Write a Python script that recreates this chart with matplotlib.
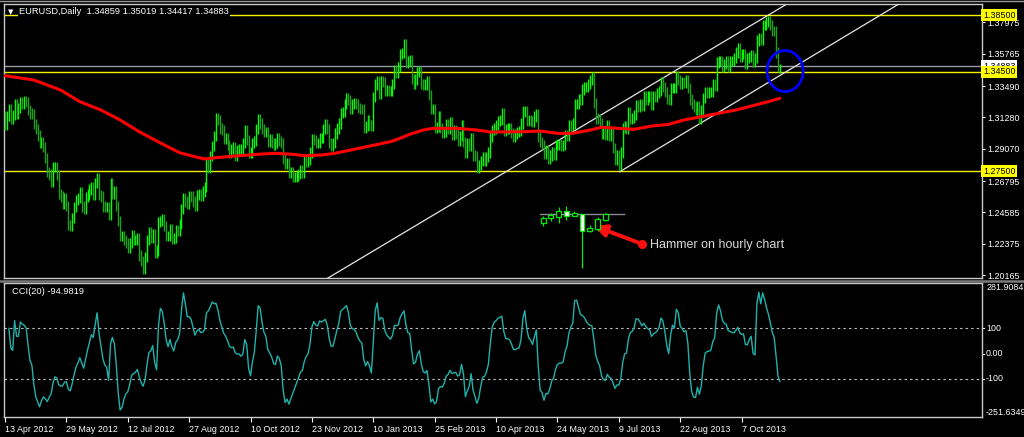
import numpy as np
import pandas as pd
import matplotlib
matplotlib.use('Agg')
import matplotlib.pyplot as plt
from matplotlib.patches import Ellipse, Rectangle
from matplotlib.lines import Line2D
import matplotlib.transforms as mtrans

plt.rcParams['font.family'] = ['Liberation Sans', 'DejaVu Sans']

# ---------------- data ----------------
symbol = 'EURUSD,Daily'
last_ohlc = [1.34859, 1.35019, 1.34417, 1.34883]
first_open = 1.3135
closes = [
    1.3075,
    1.3140, 1.3185, 1.3115, 1.3145, 1.3220,
    1.3155, 1.3195, 1.3235, 1.3225, 1.3240,
    1.3235, 1.3180, 1.3155, 1.3150, 1.3080,
    1.3045, 1.3000, 1.2945, 1.2955, 1.2920,
    1.2840, 1.2745, 1.2725, 1.2675, 1.2780,
    1.2780, 1.2720, 1.2590, 1.2570, 1.2515,
    1.2560, 1.2505, 1.2370, 1.2360, 1.2420,
    1.2495, 1.2545, 1.2560, 1.2600, 1.2500,
    1.2485, 1.2565, 1.2585, 1.2620, 1.2640,
    1.2585, 1.2665, 1.2700, 1.2580, 1.2570,
    1.2500, 1.2495, 1.2495, 1.2440, 1.2665,
    1.2590, 1.2605, 1.2505, 1.2395, 1.2290,
    1.2290, 1.2265, 1.2245, 1.2205, 1.2245,
    1.2295, 1.2265, 1.2265, 1.2280, 1.2155,
    1.2115, 1.2060, 1.2145, 1.2265, 1.2320,
    1.2280, 1.2305, 1.2175, 1.2190, 1.2390,
    1.2400, 1.2410, 1.2365, 1.2290, 1.2290,
    1.2340, 1.2270, 1.2280, 1.2335, 1.2330,
    1.2375, 1.2485, 1.2560, 1.2535, 1.2515,
    1.2575, 1.2570, 1.2535, 1.2505, 1.2580,
    1.2585, 1.2575, 1.2605, 1.2635, 1.2815,
    1.2770, 1.2855, 1.2925, 1.2995, 1.3125,
    1.3110, 1.3050, 1.3040, 1.2975, 1.2985,
    1.2935, 1.2880, 1.2905, 1.2920, 1.2860,
    1.2895, 1.2905, 1.2905, 1.2945, 1.3035,
    1.2970, 1.2875, 1.2880, 1.2950, 1.2960,
    1.3045, 1.3115, 1.3085, 1.3045, 1.3025,
    1.3025, 1.2955, 1.2975, 1.2950, 1.2935,
    1.2945, 1.2985, 1.2960, 1.2945, 1.2835,
    1.2800, 1.2805, 1.2740, 1.2745, 1.2710,
    1.2710, 1.2715, 1.2730, 1.2760, 1.2740,
    1.2820, 1.2815, 1.2830, 1.2880, 1.2975,
    1.2970, 1.2945, 1.2945, 1.2985, 1.2985,
    1.3045, 1.3080, 1.3045, 1.2945, 1.2930,
    1.2950, 1.3015, 1.3050, 1.3085, 1.3160,
    1.3165, 1.3225, 1.3265, 1.3250, 1.3190,
    1.3220, 1.3230, 1.3225, 1.3195,
    1.3190, 1.3185, 1.3055, 1.3065,
    1.3110, 1.3075, 1.3065, 1.3270, 1.3360,
    1.3385, 1.3295, 1.3385, 1.3375, 1.3315,
    1.3320, 1.3315, 1.3315, 1.3365, 1.3460,
    1.3445, 1.3485, 1.3575, 1.3580, 1.3645,
    1.3510, 1.3525, 1.3535, 1.3400, 1.3365,
    1.3395, 1.3450, 1.3455, 1.3365, 1.3360,
    1.3360, 1.3385, 1.3285, 1.3190, 1.3190,
    1.3055, 1.3060, 1.3135, 1.3055, 1.3020,
    1.3025, 1.3080, 1.3045, 1.3095, 1.3005,
    1.3035, 1.3010, 1.2965, 1.2995, 1.3075,
    1.2955, 1.2875, 1.2950, 1.2925, 1.2985,
    1.2860, 1.2855, 1.2775, 1.2790, 1.2820,
    1.2845, 1.2820, 1.2850, 1.2880, 1.2990,
    1.3040, 1.3050, 1.3075, 1.3105, 1.3110,
    1.3155, 1.3035, 1.3045, 1.3050, 1.3050,
    1.3020, 1.2990, 1.3010, 1.3025, 1.3030,
    1.3085, 1.3170, 1.3170, 1.3105, 1.3110,
    1.3105, 1.3095, 1.3135, 1.3150, 1.2990,
    1.2955, 1.2935, 1.2870, 1.2900, 1.2835,
    1.2860, 1.2880, 1.2865, 1.2935, 1.2935,
    1.2940, 1.2925, 1.2935, 1.3000, 1.2995,
    1.3075, 1.3065, 1.3085, 1.3220, 1.3220,
    1.3260, 1.3255, 1.3325, 1.3340, 1.3345,
    1.3365, 1.3390, 1.3415, 1.3230, 1.3120,
    1.3115, 1.3090, 1.3010, 1.3015, 1.3005,
    1.3075, 1.3000, 1.3015, 1.2910, 1.2830,
    1.2860, 1.2795, 1.2880, 1.3055, 1.3065,
    1.3050, 1.3165, 1.3120, 1.3125, 1.3145,
    1.3215, 1.3200, 1.3225, 1.3210, 1.3280,
    1.3255, 1.3275, 1.3280, 1.3215, 1.3280,
    1.3275, 1.3300, 1.3315, 1.3375, 1.3340,
    1.3305, 1.3260, 1.3250, 1.3335, 1.3335,
    1.3335, 1.3420, 1.3390, 1.3365, 1.3380,
    1.3370, 1.3390, 1.3335, 1.3255, 1.3225,
    1.3200, 1.3180, 1.3210, 1.3115, 1.3180,
    1.3265, 1.3305, 1.3300, 1.3305, 1.3305,
    1.3360, 1.3350, 1.3515, 1.3525, 1.3525,
    1.3485, 1.3505, 1.3525, 1.3485, 1.3525,
    1.3525, 1.3545, 1.3585, 1.3615, 1.3555,
    1.3575, 1.3575, 1.3505, 1.3545, 1.3555,
    1.3565, 1.3520, 1.3545, 1.3670, 1.3685,
    1.3675, 1.3780, 1.3780, 1.3800, 1.3805,
    1.3780, 1.3740, 1.3735, 1.3585, 1.3486,
]
bar_wick = 0.0036

date_ticks = [0, 32, 64, 96, 128, 160, 192, 224, 256, 288, 320, 352, 384]
date_labels = ['13 Apr 2012', '29 May 2012', '12 Jul 2012', '27 Aug 2012',
               '10 Oct 2012', '23 Nov 2012', '10 Jan 2013', '25 Feb 2013',
               '10 Apr 2013', '24 May 2013', '9 Jul 2013', '22 Aug 2013',
               '7 Oct 2013']
price_ticks = [1.37975, 1.35765, 1.33490, 1.31280, 1.29070, 1.26795,
               1.24585, 1.22375, 1.20165]
hlines_yellow = [1.38500, 1.34500, 1.27500]
price_range = [1.19958, 1.39276]

ma_bars = [0, 15, 29, 39, 50, 60, 70, 81, 91, 99, 104, 110, 120, 134, 141,
           150, 156, 165, 172, 182, 193, 201, 206, 211, 218, 223, 236, 246,
           253, 270, 279, 288, 296, 305, 311, 320, 328, 337, 346, 354, 363,
           372, 381, 389, 398, 404]
ma_vals = [1.3422, 1.3392, 1.3321, 1.3239, 1.3180, 1.3110, 1.3027, 1.2948,
           1.2879, 1.2851, 1.2835, 1.2844, 1.2856, 1.2870, 1.2875, 1.2868,
           1.2858, 1.2863, 1.2875, 1.2903, 1.2934, 1.2957, 1.2981, 1.3009,
           1.3039, 1.3051, 1.3051, 1.3039, 1.3025, 1.3027, 1.3032, 1.3016,
           1.3016, 1.3039, 1.3058, 1.3051, 1.3044, 1.3067, 1.3079, 1.3110,
           1.3133, 1.3157, 1.3180, 1.3208, 1.3239, 1.3263]

chan_lower_x = [320.5, 470.0]
chan_lower_y = [1.2745, 1.3960]
chan_upper_x = [168.4, 406.7]
chan_upper_y = [1.1996, 1.3920]
circle_center = (406.7, 1.3455)
circle_size = (18.8, 0.0289)

cci_period = 20
cci_label_value = -94.9819
cci_levels = [100, -100]
cci_range = [-251.6349, 281.9084]

hourly_open = [1.3482, 1.3492, 1.3494, 1.3506, 1.3496, 1.3500, 1.3466, 1.3470, 1.3488]
hourly_high = [1.3496, 1.3502, 1.3514, 1.3516, 1.3506, 1.3500, 1.3478, 1.3494, 1.3502]
hourly_low = [1.3476, 1.3486, 1.3482, 1.3488, 1.3496, 1.3392, 1.3464, 1.3466, 1.3486]
hourly_close = [1.3492, 1.3498, 1.3506, 1.3496, 1.3502, 1.3466, 1.3472, 1.3490, 1.3500]
hourly_ref = 1.3500

arrow_tail = (332.1, 1.2236)
arrow_head = (307.1, 1.2363)
note_text = 'Hammer on hourly chart'

# ---------------- derived OHLC ----------------
c = np.array(closes + [last_ohlc[3]])
n = len(c)
x = np.arange(n)
o = np.r_[first_open, c[:-1]]
o[-1] = last_ohlc[0]
h = np.maximum(o, c) + bar_wick
l = np.minimum(o, c) - bar_wick
h[-1] = last_ohlc[1]
l[-1] = last_ohlc[2]

tp = pd.Series((h + l + c) / 3.0)
sma = tp.rolling(cci_period, min_periods=3).mean()
md = tp.rolling(cci_period, min_periods=3).apply(lambda v: np.mean(np.abs(v - v.mean())), raw=True)
cci = ((tp - sma) / (0.015 * md)).values

# ---------------- figure ----------------
W, H = 1024, 437
fig = plt.figure(figsize=(W / 100, H / 100), dpi=100, facecolor='black')
FS = 6.4
frame_col = '#c8c8c8'

ax = fig.add_axes([3.5 / W, 1 - 278 / H, 978.2 / W, 274 / H])
ax2 = fig.add_axes([3.5 / W, 1 - 416.7 / H, 978.2 / W, 134 / H])
for a in (ax, ax2):
    a.set_facecolor('black')
    for s in a.spines.values():
        s.set_color(frame_col)
        s.set_linewidth(1.0)
    a.set_xlim(-0.8, 509.2)

# separators / outer border
fig.add_artist(Line2D([0, 1], [1 - 280.8 / H] * 2, color='#7a7a7a', lw=1.8, transform=fig.transFigure))
fig.add_artist(Line2D([0, 1], [1 - 0.5 / H] * 2, color='#9a9a9a', lw=1.0, transform=fig.transFigure))

# main chart
ax.set_ylim(*price_range)
for lv in hlines_yellow:
    ax.axhline(lv, color='#f2f200', lw=1.0, zorder=2)
ax.axhline(last_ohlc[3], color='#9a9aa6', lw=1.0, zorder=2)

ax.plot(chan_upper_x, chan_upper_y, color='#e6e6e6', lw=0.9, zorder=3)
ax.plot(chan_lower_x, chan_lower_y, color='#e6e6e6', lw=0.9, zorder=3)

up = c >= o
ax.vlines(x[up], l[up], h[up], colors='#00ff00', lw=1.0, zorder=4)
ax.vlines(x[~up], l[~up], h[~up], colors='#1ea01e', lw=1.0, zorder=4)

ax.plot(ma_bars, ma_vals, color='#ff0000', lw=2.2, zorder=5, solid_capstyle='round')

ax.add_patch(Ellipse(circle_center, circle_size[0], circle_size[1], fill=False,
                     ec='#0000ff', lw=2.0, zorder=6))

ax.set_xticks([])
ax.yaxis.tick_right()
ax.set_yticks(price_ticks)
ax.set_yticklabels(['%.5f' % v for v in price_ticks])
ax.tick_params(axis='y', colors='white', labelsize=FS, length=2.5, width=0.8,
               pad=1.5, labelcolor='white')

btr = mtrans.blended_transform_factory(ax.transAxes, ax.transData)
ax.text(1.0012, last_ohlc[3], '%.5f' % last_ohlc[3], transform=btr, ha='left', va='center',
        fontsize=FS, color='black', zorder=10, clip_on=False,
        bbox=dict(boxstyle='square,pad=0.18', fc='white', ec='none'))
for lv in hlines_yellow:
    ax.text(1.0012, lv, '%.5f' % lv, transform=btr, ha='left', va='center',
            fontsize=FS, color='black', zorder=11, clip_on=False,
            bbox=dict(boxstyle='square,pad=0.18', fc='#ffff00', ec='none'))

# annotation arrow + text
ax.annotate('', xy=arrow_head, xytext=arrow_tail,
            arrowprops=dict(arrowstyle='-|>', color='#ff1010', lw=2.8, mutation_scale=18,
                            shrinkA=0, shrinkB=0), zorder=8)
ax.plot([arrow_tail[0]], [arrow_tail[1]], 'o', color='#ff1010', ms=5.5, zorder=8)
ax.text(arrow_tail[0] + 4.2, arrow_tail[1] - 0.0007, note_text, color='#d8d8d8',
        fontsize=9, ha='left', va='center', zorder=8)

# hourly inset
axi = fig.add_axes([536 / W, 1 - 272 / H, 92 / W, 72 / H])
axi.set_facecolor('none')
axi.axis('off')
axi.set_xlim(-0.9, 10.9)
axi.set_ylim(1.3384, 1.3528)
axi.plot([-0.38, 10.4], [hourly_ref, hourly_ref], color='#8a8a96', lw=1.0, zorder=1)
for i in range(len(hourly_open)):
    oo, hh, ll, cc = hourly_open[i], hourly_high[i], hourly_low[i], hourly_close[i]
    axi.vlines(i, ll, hh, colors='#00ee00', lw=0.9, zorder=2)
    fc = 'black' if cc >= oo else 'white'
    axi.add_patch(Rectangle((i - 0.32, min(oo, cc)), 0.64, abs(cc - oo), fc=fc,
                            ec='#00ee00', lw=0.9, zorder=3))

# header
fig.text(8 / W, 1 - 12 / H, '\u25bc', color='white', fontsize=5, ha='left', va='center',
         family=['DejaVu Sans'])
fig.text(19 / W, 1 - 12 / H, '%s  %.5f %.5f %.5f %.5f' % (symbol, *last_ohlc),
         color='white', fontsize=FS + 0.3, ha='left', va='center',
         bbox=dict(boxstyle='square,pad=0.1', fc='black', ec='none'), zorder=20)

# CCI panel
ax2.set_ylim(*cci_range)
for lv in cci_levels:
    ax2.axhline(lv, color='#bdbdbd', lw=0.8, ls=(0, (2.2, 2.8)), zorder=2)
ax2.plot(x, cci, color='#20b2aa', lw=1.0, zorder=3)
ax2.set_yticks([])
btr2 = mtrans.blended_transform_factory(ax2.transAxes, ax2.transData)
for val, txt, va in [(cci_range[1], '%.4f' % cci_range[1], 'top'),
                     (100, '100', 'center'), (0, '0.00', 'center'),
                     (-100, '-100', 'center'),
                     (cci_range[0], '%.4f' % cci_range[0], 'bottom')]:
    ax2.text(1.0045, val, txt, transform=btr2, ha='left', va=va, fontsize=FS,
             color='white', clip_on=False)
    if va == 'center':
        ax2.plot([1.0, 1.0028], [val, val], transform=btr2, color='white', lw=0.8, clip_on=False)
ax2.text(8 / 978.2, 1 - 8.5 / 134, 'CCI(%d) %.4f' % (cci_period, cci_label_value),
         transform=ax2.transAxes, color='white', fontsize=FS + 0.3, ha='left', va='center')

ax2.set_xticks(date_ticks)
ax2.set_xticklabels(date_labels)
ax2.tick_params(axis='x', colors='white', labelsize=FS, length=3.5, width=0.8, pad=2.5,
                direction='out')
for lab in ax2.get_xticklabels():
    lab.set_ha('left')
    lab.set_color('white')

fig.savefig('out.png', dpi=100, facecolor='black')
